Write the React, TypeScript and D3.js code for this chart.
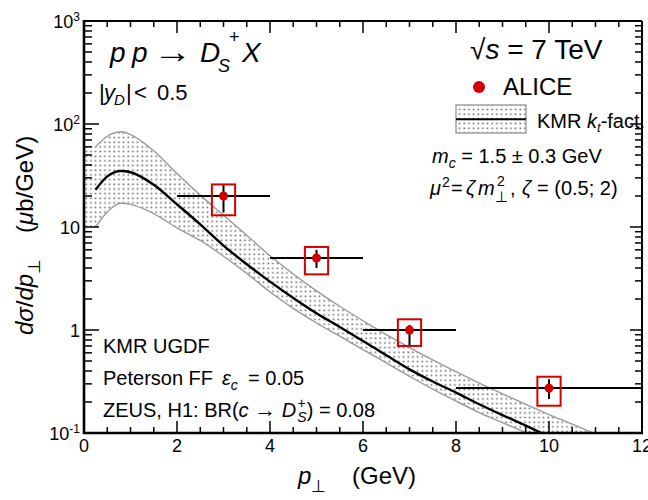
import React from 'react';
import * as d3 from 'd3';

const W = 648;
const H = 500;
const PLOT = { left: 84, right: 642, top: 21, bottom: 433 };
const FONT = 'Liberation Sans, Arial, Helvetica, sans-serif';
const RED = '#d40000';

// ALICE D_s+ measurement, |y| < 0.5, sqrt(s) = 7 TeV
const alicePt = [3, 5, 7, 10];
const alicePtLow = [2, 4, 6, 8];
const alicePtHigh = [4, 6, 8, 12];
const aliceVal = [20, 5.0, 1.0, 0.273];
const aliceStatLow = [13.8, 4.0, 0.715, 0.214];
const aliceStatHigh = [26.1, 6.0, 1.12, 0.332];
const aliceSystLow = [13.0, 3.47, 0.7, 0.184];
const aliceSystHigh = [25.9, 6.4, 1.27, 0.352];
const systHalfWidth = 0.25;

// KMR kt-factorization: central prediction
const centralPt = [0.25, 0.5, 0.8, 1, 1.5, 2, 2.5, 3, 3.5, 4, 4.5, 5, 5.5, 6, 6.5, 7, 7.5, 8, 8.5, 9, 9.5, 9.84];
const centralVal = [23, 31, 35, 34, 25.7, 16.6, 10.6, 6.6, 4.35, 2.95, 2.05, 1.455, 1.07, 0.782, 0.569, 0.415, 0.316, 0.247, 0.19, 0.149, 0.118, 0.1];

// uncertainty band: upper edge
const upperPt = [0.25, 0.5, 0.8, 1, 1.5, 2, 2.5, 3, 3.5, 4, 4.5, 5, 5.5, 6, 6.5, 7, 7.5, 8, 8.5, 9, 9.5, 10, 10.5, 10.95];
const upperVal = [60, 76, 84, 79, 55, 33, 20.4, 13, 8.3, 5.25, 3.5, 2.4, 1.7, 1.23, 0.9, 0.676, 0.513, 0.394, 0.305, 0.24, 0.19, 0.151, 0.122, 0.1];

// uncertainty band: lower edge
const lowerPt = [0.25, 0.5, 0.8, 1, 1.5, 2, 2.5, 3, 3.5, 4, 4.5, 5, 5.5, 6, 6.5, 7, 7.5, 8, 8.5, 9, 9.52];
const lowerVal = [10, 14, 17, 16.6, 13.5, 9.8, 7.4, 5.2, 3.55, 2.34, 1.62, 1.17, 0.87, 0.645, 0.479, 0.355, 0.266, 0.204, 0.158, 0.126, 0.1];

// the shaded band is filled down to pT = 0
const bandFillFrom = 0;

const xTickValues = [0, 2, 4, 6, 8, 10, 12];
const yDecades = [0.1, 1, 10, 100, 1000];
const yDecadeLabels: [string, string][] = [['10', '-1'], ['1', ''], ['10', ''], ['10', '2'], ['10', '3']];

export default function App() {
  const x = d3.scaleLinear().domain([0, 12]).range([PLOT.left, PLOT.right]);
  const y = d3.scaleLog().domain([0.1, 1000]).range([PLOT.bottom, PLOT.top]);

  const line = d3
    .line<[number, number]>()
    .x((d) => x(d[0]))
    .y((d) => y(d[1]))
    .curve(d3.curveMonotoneX);

  const centralPts = centralPt.map((p, i) => [p, centralVal[i]] as [number, number]);
  const upperPts = upperPt.map((p, i) => [p, upperVal[i]] as [number, number]);
  const lowerPts = lowerPt.map((p, i) => [p, lowerVal[i]] as [number, number]);

  const upperPath = line(upperPts) as string;
  const lowerPath = line(lowerPts) as string;
  const below = y(0.1) + 40;

  // region under the upper edge
  const underUpper =
    `M${x(bandFillFrom)},${y(upperVal[0])}` +
    upperPath.replace(/^M/, 'L') +
    `L${x(upperPt[upperPt.length - 1])},${below}L${x(bandFillFrom)},${below}Z`;
  // region under the lower edge, cut out of the band
  const underLower =
    `M${x(bandFillFrom)},${y(lowerVal[0])}` +
    lowerPath.replace(/^M/, 'L') +
    `L${x(lowerPt[lowerPt.length - 1])},${below}L${x(bandFillFrom)},${below}Z`;

  const xMinor = d3.range(0, 12.001, 0.5);
  const yMinor: number[] = [];
  [0.1, 1, 10, 100].forEach((dec) => {
    for (let m = 2; m <= 9; m++) yMinor.push(m * dec);
  });

  const tickStroke = 1.5;

  return (
    <svg
      width={W}
      height={H}
      style={{ position: 'absolute', left: 0, top: 0, background: '#fff' }}
      fontFamily={FONT}
    >
      <defs>
        <pattern id="dots" width={14 / 3} height={14 / 3} patternUnits="userSpaceOnUse">
          <rect x={1.5} y={1.5} width={1.5} height={1.5} fill="#555" />
        </pattern>
        <clipPath id="plotClip">
          <rect x={PLOT.left} y={PLOT.top} width={PLOT.right - PLOT.left} height={PLOT.bottom - PLOT.top} />
        </clipPath>
        <mask id="bandMask">
          <rect x={0} y={0} width={W} height={H} fill="#fff" />
          <path d={underLower} fill="#000" />
        </mask>
      </defs>

      <g clipPath="url(#plotClip)">
        <g mask="url(#bandMask)">
          <path d={underUpper} fill="url(#dots)" stroke="none" />
        </g>
        <path d={upperPath} fill="none" stroke="#9a9a9a" strokeWidth={1.4} />
        <path d={lowerPath} fill="none" stroke="#9a9a9a" strokeWidth={1.4} />
        <path d={line(centralPts) as string} fill="none" stroke="#000" strokeWidth={2.4} />
      </g>

      {/* ALICE points */}
      {alicePt.map((p, i) => (
        <g key={'pt' + i}>
          <line x1={x(alicePtLow[i])} x2={x(alicePtHigh[i])} y1={y(aliceVal[i])} y2={y(aliceVal[i])} stroke="#000" strokeWidth={2} />
          <line x1={x(p)} x2={x(p)} y1={y(aliceStatLow[i])} y2={y(aliceStatHigh[i])} stroke="#000" strokeWidth={2} />
          <rect
            x={x(p - systHalfWidth)}
            y={y(aliceSystHigh[i])}
            width={x(p + systHalfWidth) - x(p - systHalfWidth)}
            height={y(aliceSystLow[i]) - y(aliceSystHigh[i])}
            fill="none"
            stroke={RED}
            strokeWidth={2}
          />
          <circle cx={x(p)} cy={y(aliceVal[i])} r={4.5} fill={RED} />
        </g>
      ))}

      {/* frame */}
      <line x1={PLOT.left} x2={PLOT.right} y1={PLOT.top} y2={PLOT.top} stroke="#000" strokeWidth={2} />
      <line x1={PLOT.right} x2={PLOT.right} y1={PLOT.top} y2={PLOT.bottom} stroke="#000" strokeWidth={2} />
      <line x1={PLOT.left} x2={PLOT.left} y1={PLOT.top - 1} y2={PLOT.bottom + 1} stroke="#000" strokeWidth={2.6} />
      <line x1={PLOT.left - 1} x2={PLOT.right + 1} y1={PLOT.bottom} y2={PLOT.bottom} stroke="#000" strokeWidth={2.6} />

      {/* x ticks, bottom and top */}
      {xMinor.map((v) => {
        const major = Math.abs(v % 2) < 1e-9;
        const len = major ? 12 : 6;
        return (
          <g key={'xt' + v}>
            <line x1={x(v)} x2={x(v)} y1={PLOT.bottom} y2={PLOT.bottom - len} stroke="#000" strokeWidth={tickStroke} />
            <line x1={x(v)} x2={x(v)} y1={PLOT.top} y2={PLOT.top + len} stroke="#000" strokeWidth={tickStroke} />
          </g>
        );
      })}
      {xTickValues.map((v) => (
        <text key={'xl' + v} x={x(v)} y={452} fontSize={18} textAnchor="middle">
          {v}
        </text>
      ))}

      {/* y ticks, left and right */}
      {yDecades.map((v) => (
        <g key={'yM' + v}>
          <line x1={PLOT.left} x2={PLOT.left + 15} y1={y(v)} y2={y(v)} stroke="#000" strokeWidth={tickStroke} />
          <line x1={PLOT.right} x2={PLOT.right - 12} y1={y(v)} y2={y(v)} stroke="#000" strokeWidth={tickStroke} />
        </g>
      ))}
      {yMinor.map((v) => (
        <g key={'ym' + v}>
          <line x1={PLOT.left} x2={PLOT.left + 8} y1={y(v)} y2={y(v)} stroke="#000" strokeWidth={tickStroke} />
          <line x1={PLOT.right} x2={PLOT.right - 7} y1={y(v)} y2={y(v)} stroke="#000" strokeWidth={tickStroke} />
        </g>
      ))}
      {yDecades.map((v, i) => (
        <text key={'yl' + v} x={80} y={y(v) + 7} fontSize={18} textAnchor="end">
          {yDecadeLabels[i][0]}
          {yDecadeLabels[i][1] && (
            <tspan fontSize={12} dy={-7}>
              {yDecadeLabels[i][1]}
            </tspan>
          )}
        </text>
      ))}

      {/* axis titles */}
      <text y={484} fontSize={24}>
        <tspan x={298} fontStyle="italic">p</tspan>
        <tspan dy={8} fontSize={17}>⊥</tspan>
        <tspan x={352} dy={-8}>(GeV)</tspan>
      </text>
      <text transform="translate(33,335) rotate(-90)" fontSize={24}>
        <tspan fontStyle="italic">dσ</tspan>
        <tspan>/</tspan>
        <tspan fontStyle="italic">dp</tspan>
        <tspan dy={7} fontSize={17}>⊥</tspan>
        <tspan x={102} dy={-7}>(</tspan>
        <tspan fontStyle="italic">μ</tspan>
        <tspan>b/GeV)</tspan>
      </text>

      {/* process title */}
      <text y={62} fontSize={28}>
        <tspan x={110} fontStyle="italic">p</tspan>
        <tspan x={132} fontStyle="italic">p</tspan>
      </text>
      <text x={153} y={63} fontSize={34} textLength={39} lengthAdjust="spacingAndGlyphs">→</text>
      <text y={62} fontSize={28}>
        <tspan x={200} fontStyle="italic">D</tspan>
        <tspan x={218} dy={10} fontSize={18} fontStyle="italic">S</tspan>
        <tspan x={229} dy={-29} fontSize={18}>+</tspan>
        <tspan x={242} dy={19} fontStyle="italic">X</tspan>
      </text>

      <text y={100} fontSize={22}>
        <tspan x={99}>|</tspan>
        <tspan x={104} fontStyle="italic">y</tspan>
        <tspan x={114} dy={5} fontSize={15} fontStyle="italic">D</tspan>
        <tspan x={126} dy={-5}>|</tspan>
        <tspan x={134}>&lt;</tspan>
        <tspan x={157}>0.5</tspan>
      </text>

      {/* legend and conditions */}
      <text x={470} y={59} fontSize={28}>
        √<tspan fontStyle="italic">s</tspan> = 7 TeV
      </text>
      <circle cx={479} cy={87} r={6} fill={RED} />
      <text x={503} y={95} fontSize={24}>ALICE</text>
      <rect x={456} y={105} width={70} height={28} fill="url(#dots)" stroke="#9a9a9a" strokeWidth={1.4} />
      <line x1={456} x2={526} y1={119.3} y2={119.3} stroke="#000" strokeWidth={2} />
      <text x={537} y={128} fontSize={20}>
        KMR <tspan fontStyle="italic">k</tspan>
        <tspan dy={4} fontSize={13} fontStyle="italic">t</tspan>
        <tspan dy={-4}>-fact.</tspan>
      </text>

      <text x={432} y={163} fontSize={20}>
        <tspan fontStyle="italic">m</tspan>
        <tspan dy={5} fontSize={14} fontStyle="italic">c</tspan>
        <tspan dy={-5}> = 1.5 ± 0.3 GeV</tspan>
      </text>
      <text y={195} fontSize={20}>
        <tspan x={430} fontStyle="italic">μ</tspan>
        <tspan x={442} dy={-8} fontSize={14}>2</tspan>
        <tspan x={451} dy={8}>=</tspan>
        <tspan x={466} fontStyle="italic">ζ</tspan>
        <tspan x={478} fontStyle="italic">m</tspan>
        <tspan x={497} dy={-9} fontSize={14}>2</tspan>
        <tspan x={495} dy={16} fontSize={15}>⊥</tspan>
        <tspan x={510} dy={-7}>,</tspan>
        <tspan x={522} fontStyle="italic">ζ</tspan>
        <tspan x={537}>= (0.5; 2)</tspan>
      </text>

      <text x={103} y={353} fontSize={20}>KMR UGDF</text>
      <text y={385} fontSize={20}>
        <tspan x={103}>Peterson FF</tspan>
        <tspan x={222} fontStyle="italic">ε</tspan>
        <tspan dy={5} fontSize={14} fontStyle="italic">c</tspan>
        <tspan x={248} dy={-5}>= 0.05</tspan>
      </text>
      <text y={417} fontSize={20}>
        <tspan x={103}>ZEUS, H1: BR(</tspan>
        <tspan fontStyle="italic">c</tspan>
        <tspan> </tspan>
        <tspan fontSize={22}>→</tspan>
        <tspan> </tspan>
        <tspan fontStyle="italic">D</tspan>
        <tspan dx={1} dy={5} fontSize={14} fontStyle="italic">S</tspan>
        <tspan dx={-9} dy={-14} fontSize={14}>+</tspan>
        <tspan dx={1} dy={9}>) = 0.08</tspan>
      </text>
    </svg>
  );
}
